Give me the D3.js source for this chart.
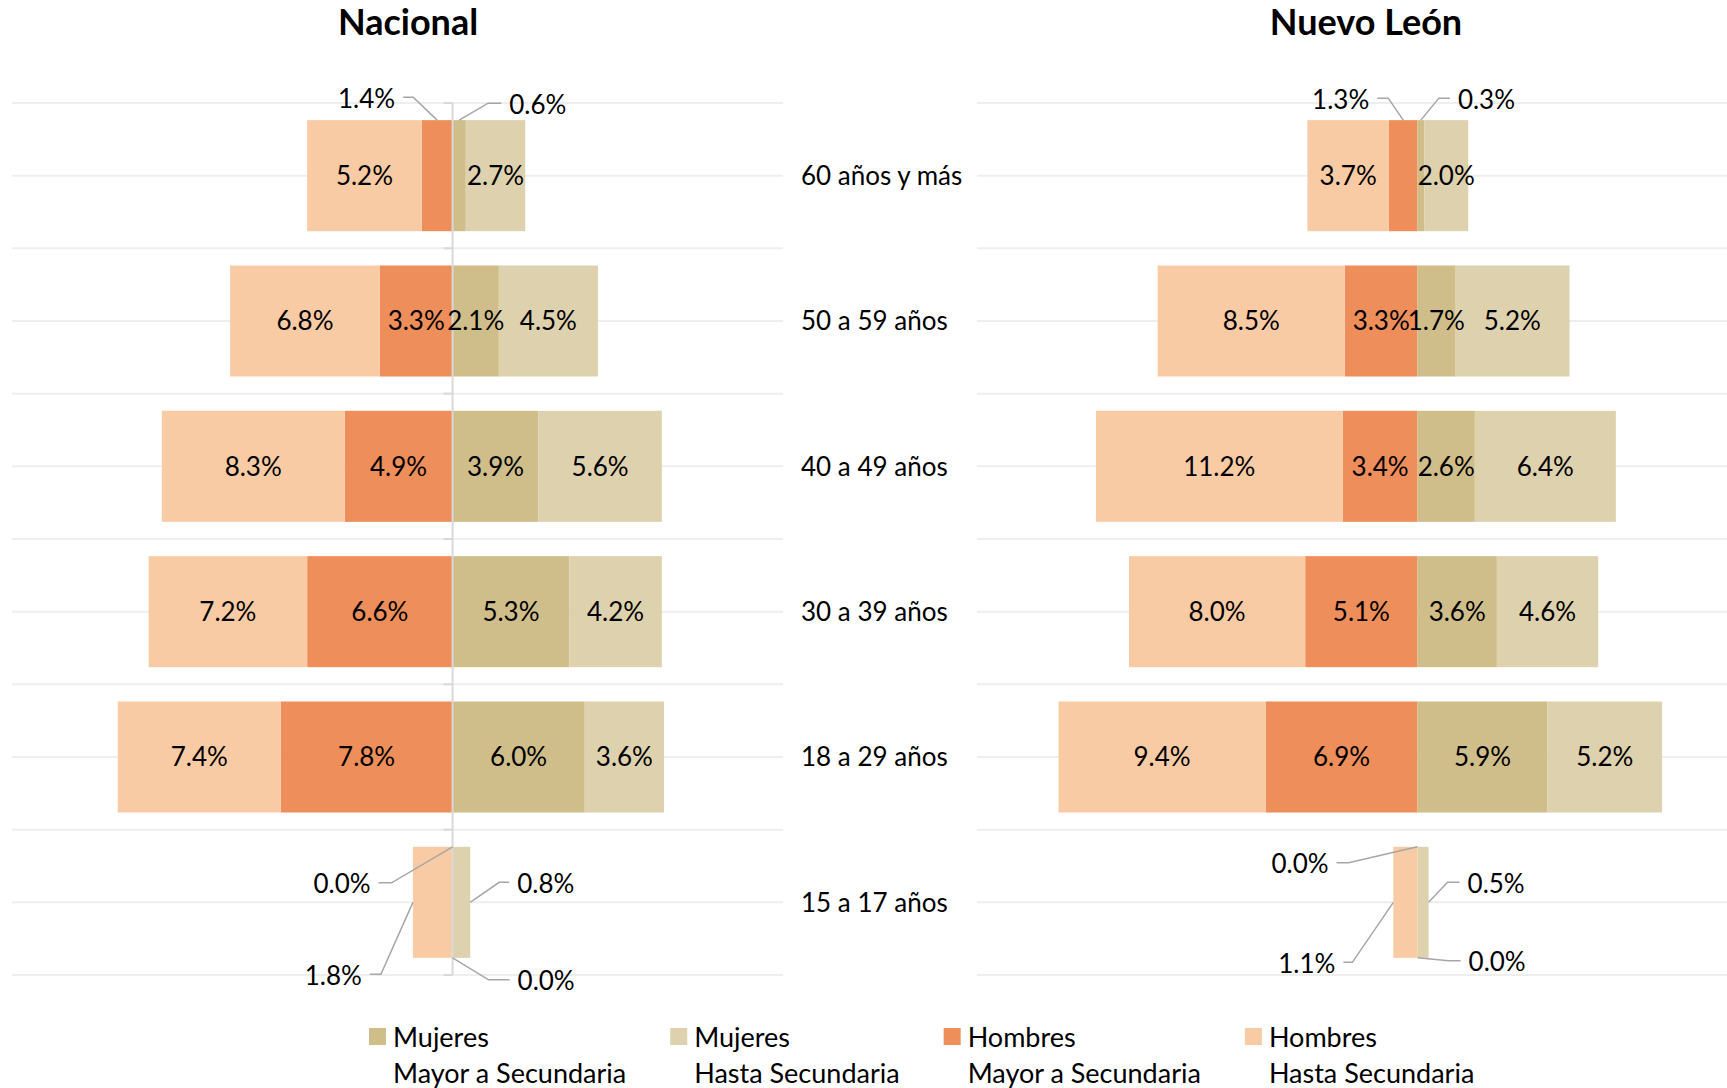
<!DOCTYPE html>
<html>
<head>
<meta charset="utf-8">
<script src="https://cdn.jsdelivr.net/npm/d3@7"></script>
<style>
  body { margin: 0; background: #fff; }
  text { font-family: Lato, "Open Sans", sans-serif; fill: #000; }
</style>
</head>
<body>
<div id="chart-area"></div>
<script>
// age groups, top to bottom
var categories = ["60 años y más", "50 a 59 años", "40 a 49 años", "30 a 39 años", "18 a 29 años", "15 a 17 años"];

// Nacional (%)
var nacHombresHasta = [5.2, 6.8, 8.3, 7.2, 7.4, 1.8];
var nacHombresMayor = [1.4, 3.3, 4.9, 6.6, 7.8, 0.0];
var nacMujeresMayor = [0.6, 2.1, 3.9, 5.3, 6.0, 0.0];
var nacMujeresHasta = [2.7, 4.5, 5.6, 4.2, 3.6, 0.8];

// Nuevo León (%)
var nlHombresHasta = [3.7, 8.5, 11.2, 8.0, 9.4, 1.1];
var nlHombresMayor = [1.3, 3.3, 3.4, 5.1, 6.9, 0.0];
var nlMujeresMayor = [0.3, 1.7, 2.6, 3.6, 5.9, 0.0];
var nlMujeresHasta = [2.0, 5.2, 6.4, 4.6, 5.2, 0.5];

var xDomain = [-20, 15];

var seriesKeys = ["hMayor", "hHasta", "mMayor", "mHasta"];
var seriesNames = {
  mMayor: ["Mujeres", "Mayor a Secundaria"],
  mHasta: ["Mujeres", "Hasta Secundaria"],
  hMayor: ["Hombres", "Mayor a Secundaria"],
  hHasta: ["Hombres", "Hasta Secundaria"]
};
var legendOrder = ["mMayor", "mHasta", "hMayor", "hHasta"];
var colors = { hHasta: "#F9CBA5", hMayor: "#EE8E5A", mMayor: "#CFBE8A", mHasta: "#DDD1AE" };

var width = 1727, height = 1088;
var top0 = 103, bottom0 = 975;

var svg = d3.select("#chart-area")
    .append("svg")
    .attr("width", width)
    .attr("height", height);

var y = d3.scaleBand()
    .domain(categories)
    .range([top0, bottom0])
    .paddingInner(0.236)
    .paddingOuter(0.118);

// callout labels (leader lines), placed by hand like in the original
// anchor: point of the segment the line starts from; dx,dy: elbow offset; stub: horizontal part
var callouts = {
  nac: {
    "60 años y más|hMayor": { anchor: "top", dx: -24, dy: -23, stub: -10 },
    "60 años y más|mMayor": { anchor: "top", dx: 29, dy: -17, stub: 13 },
    "15 a 17 años|hMayor": { anchor: "top", dx: -61, dy: 36, stub: -13 },
    "15 a 17 años|hHasta": { anchor: "left", dx: -32, dy: 72, stub: -11 },
    "15 a 17 años|mHasta": { anchor: "right", dx: 29, dy: -20, stub: 10 },
    "15 a 17 años|mMayor": { anchor: "bottom", dx: 36, dy: 22, stub: 21 }
  },
  nl: {
    "60 años y más|hMayor": { anchor: "top", dx: -15, dy: -22, stub: -11 },
    "60 años y más|mMayor": { anchor: "top", dx: 18, dy: -22, stub: 11 },
    "15 a 17 años|hMayor": { anchor: "top", dx: -69, dy: 16, stub: -12 },
    "15 a 17 años|hHasta": { anchor: "left", dx: -41, dy: 60, stub: -9 },
    "15 a 17 años|mHasta": { anchor: "right", dx: 19, dy: -20, stub: 12 },
    "15 a 17 años|mMayor": { anchor: "bottom", dx: 31, dy: 3, stub: 12 }
  }
};

var panels = [
  { id: "nac", title: "Nacional", titleX: 408, range: [12, 783], axisLine: true,
    values: { hHasta: nacHombresHasta, hMayor: nacHombresMayor, mMayor: nacMujeresMayor, mHasta: nacMujeresHasta } },
  { id: "nl", title: "Nuevo León", titleX: 1366, range: [977, 1748], axisLine: false,
    values: { hHasta: nlHombresHasta, hMayor: nlHombresMayor, mMayor: nlMujeresMayor, mHasta: nlMujeresHasta } }
];

var fmt = function(v) { return Math.abs(v).toFixed(1) + "%"; };

var stack = d3.stack()
    .keys(seriesKeys)
    .offset(d3.stackOffsetDiverging);

panels.forEach(function(p) {
  var x = d3.scaleLinear().domain(xDomain).range(p.range);
  var g = svg.append("g").attr("class", "panel-" + p.id);

  // gridlines at band edges and band centres
  var half = y.step() / 2;
  var gridY = d3.range(0, categories.length * 2 + 1).map(function(i) { return top0 + i * half; });
  g.selectAll(".grid")
    .data(gridY)
    .enter()
    .append("line")
    .attr("x1", x(xDomain[0]))
    .attr("x2", Math.min(x(xDomain[1]), width))
    .attr("y1", function(d) { return d; })
    .attr("y2", function(d) { return d; })
    .attr("stroke", "#EEEEEE")
    .attr("stroke-width", 2);

  var rows = categories.map(function(c, i) {
    return {
      cat: c,
      hHasta: -p.values.hHasta[i],
      hMayor: -p.values.hMayor[i],
      mMayor: p.values.mMayor[i],
      mHasta: p.values.mHasta[i]
    };
  });

  var layers = stack(rows);

  var layerG = g.selectAll(".layer")
    .data(layers)
    .enter()
    .append("g")
    .attr("fill", function(d) { return colors[d.key]; });

  layerG.selectAll("rect")
    .data(function(d) { return d.map(function(s) { s.key = d.key; return s; }); })
    .enter()
    .append("rect")
    .attr("x", function(d) { return x(Math.min(d[0], d[1])); })
    .attr("width", function(d) { return Math.abs(x(d[1]) - x(d[0])); })
    .attr("y", function(d) { return y(d.data.cat); })
    .attr("height", y.bandwidth());

  // vertical axis with small minor ticks
  if (p.axisLine) {
    g.append("line")
      .attr("x1", x(0)).attr("x2", x(0))
      .attr("y1", top0).attr("y2", bottom0)
      .attr("stroke", "#D9D9D9")
      .attr("stroke-width", 2);
    g.selectAll(".tick")
      .data(gridY.filter(function(d, i) { return i % 2 === 0; }))
      .enter()
      .append("line")
      .attr("x1", x(0) - 9).attr("x2", x(0))
      .attr("y1", function(d) { return d; })
      .attr("y2", function(d) { return d; })
      .attr("stroke", "#D9D9D9")
      .attr("stroke-width", 2);
  }

  // data labels
  var segs = [];
  layers.forEach(function(l) { l.forEach(function(s) { segs.push(s); }); });

  segs.forEach(function(s) {
    var value = s.data[s.key];
    var co = callouts[p.id][s.data.cat + "|" + s.key];
    var x0 = x(Math.min(s[0], s[1])), x1 = x(Math.max(s[0], s[1]));
    var yTop = y(s.data.cat), yMid = yTop + y.bandwidth() / 2, yBot = yTop + y.bandwidth();

    if (!co) {
      g.append("text")
        .attr("x", (x0 + x1) / 2)
        .attr("y", yMid)
        .attr("dy", "0.36em")
        .attr("text-anchor", "middle")
        .style("font-size", "26px")
        .text(fmt(value));
      return;
    }

    var ax, ay;
    if (co.anchor === "top") { ax = (x0 + x1) / 2; ay = yTop; }
    else if (co.anchor === "bottom") { ax = (x0 + x1) / 2; ay = yBot; }
    else if (co.anchor === "left") { ax = x0; ay = yMid; }
    else { ax = x1; ay = yMid; }

    var ex = ax + co.dx, ey = ay + co.dy;
    var sx = ex + co.stub;
    g.append("polyline")
      .attr("points", [[ax, ay], [ex, ey], [sx, ey]].join(" "))
      .attr("fill", "none")
      .attr("stroke", "#A6A6A6")
      .attr("stroke-width", 1.5);

    var left = co.stub < 0;
    g.append("text")
      .attr("x", left ? sx - 8 : sx + 8)
      .attr("y", ey + 1)
      .attr("dy", "0.36em")
      .attr("text-anchor", left ? "end" : "start")
      .style("font-size", "26px")
      .text(fmt(value));
  });

  g.append("text")
    .attr("x", p.titleX)
    .attr("y", 35)
    .attr("text-anchor", "middle")
    .style("font-size", "36px")
    .style("font-weight", "bold")
    .text(p.title);
});

// category labels in the middle
svg.append("g")
  .selectAll("text")
  .data(categories)
  .enter()
  .append("text")
  .attr("x", 801)
  .attr("y", function(d) { return y(d) + y.bandwidth() / 2; })
  .attr("dy", "0.36em")
  .style("font-size", "26px")
  .text(function(d) { return d; });

// legend
var legend = svg.append("g").attr("class", "legend");
var lx = 369;
legendOrder.forEach(function(k) {
  var item = legend.append("g").attr("transform", "translate(" + lx + ",0)");
  item.append("rect")
    .attr("x", 0).attr("y", 1028)
    .attr("width", 17).attr("height", 17)
    .attr("fill", colors[k]);
  var t1 = item.append("text")
    .attr("x", 24).attr("y", 1037).attr("dy", "0.36em")
    .style("font-size", "27px")
    .text(seriesNames[k][0]);
  var t2 = item.append("text")
    .attr("x", 24).attr("y", 1073).attr("dy", "0.36em")
    .style("font-size", "27px")
    .text(seriesNames[k][1]);
  var w = Math.max(t1.node().getComputedTextLength(), t2.node().getComputedTextLength());
  lx += 24 + w + 44;
});
</script>
</body>
</html>
